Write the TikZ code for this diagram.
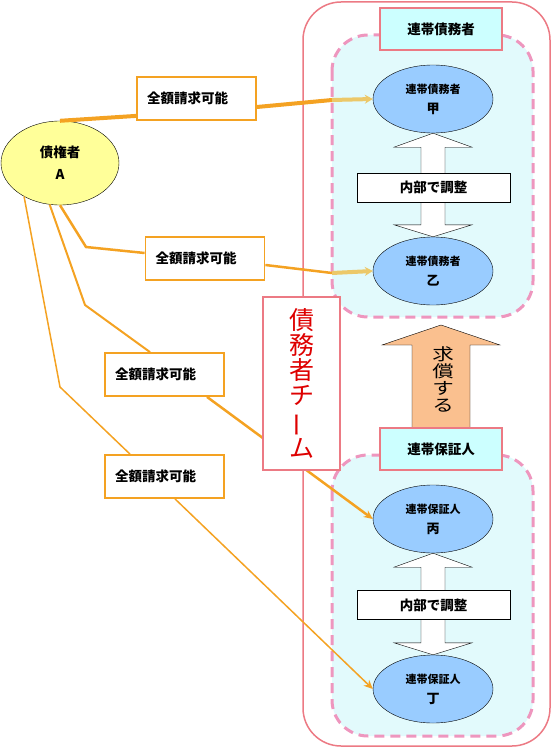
\documentclass[tikz,border=0pt]{standalone}
\usepackage{fontspec}
\setmainfont{Noto Sans CJK JP}
\usetikzlibrary{calc,arrows.meta,shapes.geometric}

\definecolor{lineorange}{RGB}{244,162,34}
\definecolor{hintorange}{RGB}{236,200,105}
\definecolor{framepink}{RGB}{236,122,132}
\definecolor{dashpink}{RGB}{238,150,190}
\definecolor{areacyan}{RGB}{226,250,252}
\definecolor{labelcyan}{RGB}{204,255,255}
\definecolor{debtorblue}{RGB}{153,204,255}
\definecolor{credyellow}{RGB}{255,255,153}
\definecolor{kyushofill}{RGB}{250,192,143}
\definecolor{teamred}{RGB}{222,0,0}

% white two-headed arrow between two ellipses
\newcommand{\twoarrow}[2]{%
  \draw[twoway] (#1.south) -- ++(39,14) -- ++(-27,0) -- ($(#2.north)+(12,-12)$)
    -- ++(27,0) -- (#2.north) -- ++(-39,-12) -- ++(27,0)
    -- ($(#1.south)+(-12,14)$) -- ++(-27,0) -- cycle;}
\newcommand{\wide}[1]{\scalebox{1.3}[1]{#1}}

\begin{document}
\begin{tikzpicture}[x=1pt,y=-1pt,
  debtor/.style={ellipse, draw, fill=debtorblue, minimum width=120pt, minimum height=68pt,
    inner sep=0pt, align=center, font={\bfseries\fontsize{11}{13}\selectfont}},
  grouplabel/.style={draw=framepink, line width=1.5pt, fill=labelcyan, minimum width=122pt,
    minimum height=42pt, font={\bfseries\fontsize{13.5}{15}\selectfont}},
  claimbox/.style={draw=lineorange, line width=1.8pt, fill=white, minimum height=43pt,
    text width=99pt, inner xsep=10pt, align=left, font={\bfseries\fontsize{13.5}{15}\selectfont}},
  adjust/.style={draw, fill=white, minimum width=153pt, minimum height=29pt,
    font={\bfseries\fontsize{13.5}{15}\selectfont}},
  twoway/.style={draw, fill=white},
  area/.style={draw=dashpink, line width=3pt, dash pattern=on 10pt off 6pt, fill=areacyan,
    rounded corners=36pt},
  claim/.style={draw=lineorange},
  hint/.style={draw=hintorange, line width=4pt, -{Stealth[length=8pt,width=9pt]}},
]
\useasboundingbox (0,0) rectangle (552,749);

% debtor team frame
\draw[framepink, line width=1.5pt, rounded corners=38pt] (303,2) rectangle (550,746);
\draw[area] (332,35) rectangle (533,317);
\draw[area] (332,455) rectangle (533,736);

% refund arrow
\draw[fill=kyushofill] (441,325) -- (500,345) -- (470,345) -- (470,428) -- (412,428)
  -- (412,345) -- (382,345) -- cycle;
\node[font={\fontsize{16.5}{17}\selectfont}, align=center, inner sep=0pt] (kyusho) at (443,379)
  {\wide{求}\\\wide{償}\\\wide{す}\\\wide{る}};

\node[grouplabel] (debtlabel) at (441,29) {連帯債務者};
\node[grouplabel] (guarlabel) at (441,449) {連帯保証人};

\node[debtor] (ko) at (433,99) {連帯債務者\\[7pt]{\fontsize{13}{15}\selectfont 甲}};
\node[debtor] (otsu) at (433,271) {連帯債務者\\[7pt]{\fontsize{13}{15}\selectfont 乙}};
\node[debtor] (hei) at (433,519) {連帯保証人\\[7pt]{\fontsize{13}{15}\selectfont 丙}};
\node[debtor] (tei) at (433,689) {連帯保証人\\[7pt]{\fontsize{13}{15}\selectfont 丁}};

\twoarrow{ko}{otsu}
\twoarrow{hei}{tei}
\node[adjust] (adjust1) at (433.5,187.5) {内部で調整};
\node[adjust] (adjust2) at (433.5,605) {内部で調整};

% creditor and claims
\node[ellipse, draw, fill=credyellow, minimum width=118pt, minimum height=84pt, inner sep=0pt,
  align=center, font={\bfseries\fontsize{13.5}{15}\selectfont}] (cred) at (60,163)
  {債権者\\[7pt]A};

\node[claimbox] (box1) at (196.5,98.5) {全額請求可能};
\node[claimbox] (box2) at (205,258.5) {全額請求可能};
\node[claimbox] (box3) at (164.5,374.5) {全額請求可能};
\node[claimbox] (box4) at (164.5,476.5) {全額請求可能};

\coordinate (j1) at (332,100);
\coordinate (j2) at (332,273);
\coordinate (b2) at (86,247);
\coordinate (b3) at (85,305);
\coordinate (b4) at (60,387);

\draw[claim, line width=4pt] (cred.north) -- ([yshift=5pt]box1.south west);
\draw[claim, line width=4pt] ([yshift=-8.5pt]box1.east) -- (j1);
\draw[hint] (j1) -- (ko.west);

\draw[claim, line width=2.5pt] (cred.south) -- (b2) -- ([yshift=5.5pt]box2.west);
\draw[claim, line width=2.5pt] ([yshift=-6.5pt]box2.east) -- (j2);
\draw[hint] (j2) -- (otsu.west);

\draw[claim, line width=2pt] (cred.256) -- (b3) -- ([xshift=-14.5pt]box3.north);
\draw[claim, line width=2.5pt, -{Stealth[length=9pt,width=8pt]}] ([xshift=42.5pt]box3.south) -- (hei.west);

\draw[claim, line width=1.5pt] (cred.223) -- (b4) -- ([xshift=-34.5pt]box4.north);
\draw[claim, line width=1.5pt, -{Stealth[length=9pt,width=8pt]}] ([xshift=10.5pt]box4.south) -- (tei.west);

% team label
\node[draw=framepink, line width=1.5pt, fill=white, minimum width=77pt, minimum height=173pt,
  text=teamred, align=center, font={\fontsize{25}{25}\selectfont}] (team) at (301.5,383.5)
  {債\\務\\者\\チ\\\rotatebox[origin=c]{90}{ー}\\ム};
\end{tikzpicture}
\end{document}
